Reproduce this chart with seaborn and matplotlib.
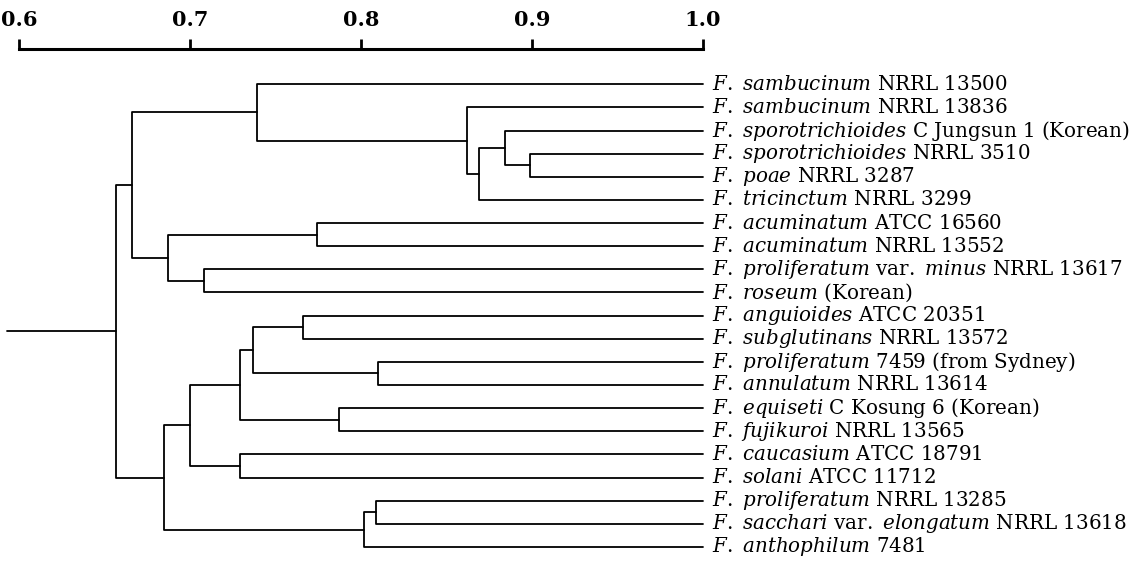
import numpy as np
import pandas as pd
import matplotlib
matplotlib.use("Agg")
import matplotlib.pyplot as plt
import seaborn as sns

# leaf labels, top to bottom
species = [
    "F. sambucinum", "F. sambucinum", "F. sporotrichioides", "F. sporotrichioides",
    "F. poae", "F. tricinctum", "F. acuminatum", "F. acuminatum",
    "F. proliferatum var. minus", "F. roseum", "F. anguioides", "F. subglutinans",
    "F. proliferatum", "F. annulatum", "F. equiseti", "F. fujikuroi",
    "F. caucasium", "F. solani", "F. proliferatum", "F. sacchari var. elongatum",
    "F. anthophilum",
]
strains = [
    "NRRL 13500", "NRRL 13836", "C Jungsun 1 (Korean)", "NRRL 3510",
    "NRRL 3287", "NRRL 3299", "ATCC 16560", "NRRL 13552",
    "NRRL 13617", "(Korean)", "ATCC 20351", "NRRL 13572",
    "7459 (from Sydney)", "NRRL 13614", "C Kosung 6 (Korean)", "NRRL 13565",
    "ATCC 18791", "ATCC 11712", "NRRL 13285", "NRRL 13618",
    "7481",
]

# merges (scipy-like ids: leaves 0..20, clusters 21..), similarity level
merge_a = [3, 2, 22, 1, 0, 6, 8, 26, 25, 10, 12, 30, 14, 32, 16, 34, 18, 37, 36, 29]
merge_b = [4, 21, 5, 23, 24, 7, 9, 27, 28, 11, 13, 31, 15, 33, 17, 35, 19, 20, 38, 39]
merge_sim = [0.899, 0.884, 0.869, 0.862, 0.739, 0.774, 0.708, 0.687, 0.666,
             0.766, 0.810, 0.737, 0.787, 0.729, 0.729, 0.700, 0.809, 0.802,
             0.685, 0.657]
stem_start = 0.593
scale_ticks = [0.6, 0.7, 0.8, 0.9, 1.0]

sns.set_theme(style="white")
plt.rcParams["font.family"] = ["DejaVu Serif"]
plt.rcParams["mathtext.fontset"] = "dejavuserif"

n = len(species)
pos = {i: (1.0, float(i)) for i in range(n)}
rows = []
for k, (a, b, h) in enumerate(zip(merge_a, merge_b, merge_sim)):
    xa, ya = pos[a]
    xb, yb = pos[b]
    for x, y in [(xa, ya), (h, ya), (h, yb), (xb, yb)]:
        rows.append({"x": x, "y": y, "seg": k})
    pos[n + k] = (h, (ya + yb) / 2)
root_x, root_y = pos[n + len(merge_sim) - 1]
rows.append({"x": root_x, "y": root_y, "seg": -1})
rows.append({"x": stem_start, "y": root_y, "seg": -1})
df = pd.DataFrame(rows)

fig = plt.figure(figsize=(11.4, 5.64), dpi=100)
ax = fig.add_axes([0, 0, 1, 1])
sns.lineplot(data=df, x="x", y="y", units="seg", estimator=None, sort=False,
             color="black", linewidth=1.3, ax=ax)

# pixel mapping of the original figure
x_px0, x_scale = 19, 1710
y_px0, y_step = 84.3, 23.13
ax.set_xlim(0.6 - x_px0 / x_scale, 0.6 + (1140 - x_px0) / x_scale)
ax.set_ylim((564 - y_px0) / y_step, -y_px0 / y_step)


def make_label(sp, st):
    parts = []
    for w in sp.split(" "):
        if w == "var.":
            parts.append(r"\mathrm{var.}")
        else:
            parts.append(r"\mathit{" + w + "}")
    return "$" + r"\ ".join(parts) + "$ " + st


for i, (sp, st) in enumerate(zip(species, strains)):
    ax.text(1.0 + 9 / x_scale, i, make_label(sp, st), va="center", ha="left",
            fontsize=14.3, color="black")

# scale bar on top
for s in ["left", "right", "bottom"]:
    ax.spines[s].set_visible(False)
ax.spines["top"].set_visible(True)
ax.spines["top"].set_color("black")
ax.spines["top"].set_linewidth(2.2)
ax.spines["top"].set_position(("data", (49 - y_px0) / y_step))
ax.spines["top"].set_bounds(0.6, 1.0)
ax.xaxis.set_ticks_position("top")
ax.set_xticks(scale_ticks)
ax.set_xticklabels([f"{t:.1f}" for t in scale_ticks], fontweight="bold", fontsize=15)
ax.tick_params(axis="x", direction="out", length=7, width=2, pad=7, colors="black")
ax.set_yticks([])
ax.set_xlabel("")
ax.set_ylabel("")
ax.grid(False)

fig.savefig("out.png", dpi=100)
